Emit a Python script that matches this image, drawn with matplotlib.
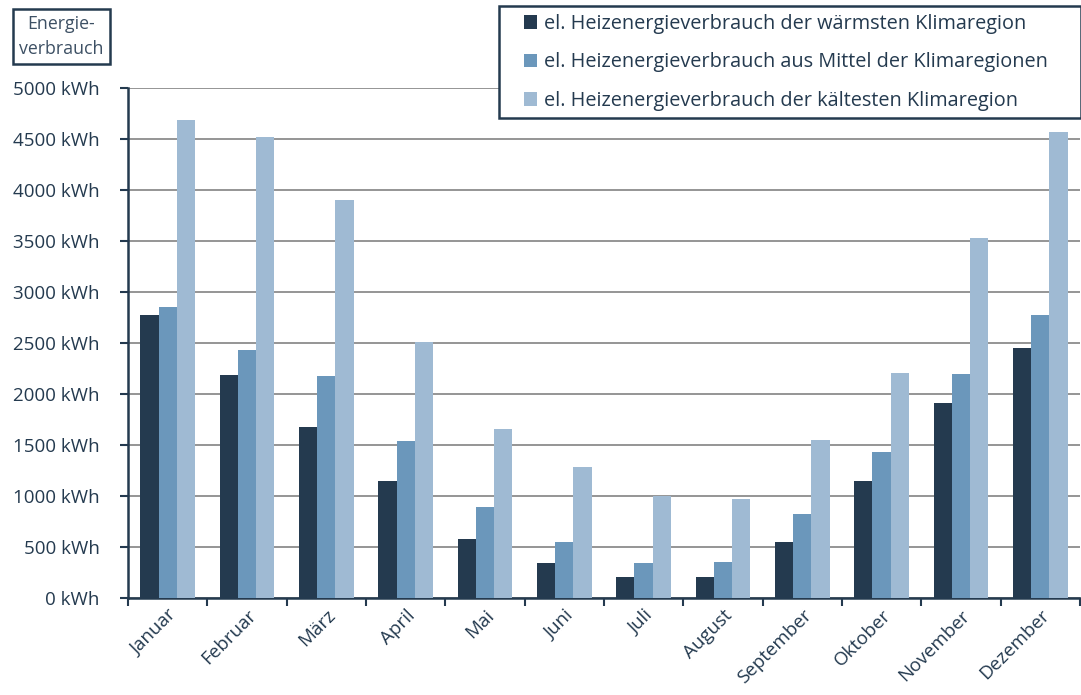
import numpy as np
import matplotlib.pyplot as plt
from matplotlib.patches import Rectangle

plt.rcParams['font.family'] = ['Open Sans', 'DejaVu Sans']

# Monatsnamen und Verbrauchswerte (kWh)
months = ["Januar", "Februar", "März", "April", "Mai", "Juni", "Juli",
          "August", "September", "Oktober", "November", "Dezember"]
waermste = [2770, 2190, 1680, 1150, 580, 340, 205, 205, 545, 1150, 1910, 2455]
mittel = [2850, 2430, 2180, 1535, 895, 548, 340, 353, 820, 1435, 2195, 2770]
kaelteste = [4690, 4520, 3900, 2510, 1660, 1285, 1000, 967, 1548, 2205, 3525, 4565]

series_labels = ["el. Heizenergieverbrauch der wärmsten Klimaregion",
                 "el. Heizenergieverbrauch aus Mittel der Klimaregionen",
                 "el. Heizenergieverbrauch der kältesten Klimaregion"]
colors = ["#243a4f", "#6b97bb", "#9fbad3"]
text_color = "#243a4f"

fig = plt.figure(figsize=(10.81, 6.95), dpi=100)
ax = fig.add_axes([0.1184, 0.1396, 0.8806, 0.7338])

x = np.arange(len(months))
w = 0.23
for i, (vals, lab, col) in enumerate(zip([waermste, mittel, kaelteste], series_labels, colors)):
    ax.bar(x + (i - 1) * w, vals, width=w, color=col, label=lab, zorder=3)

ax.set_xlim(-0.5, len(months) - 0.5)
ax.set_ylim(0, 5000)
yt = np.arange(0, 5001, 500)
ax.set_yticks(yt)
ax.set_yticklabels([f"{v} kWh" for v in yt], fontsize=13.5, color=text_color)
ax.yaxis.grid(True, color="#8c8c8c", linewidth=1.3, zorder=0)

# Ticks zwischen den Kategorien, Beschriftung in der Mitte
ax.set_xticks(np.arange(-0.5, len(months) + 0.5, 1))
ax.set_xticklabels([])
ax.set_xticks(x, minor=True)
ax.set_xticklabels(months, minor=True, rotation=45, ha="right", rotation_mode="anchor",
                   fontsize=13.5, color=text_color)
ax.tick_params(axis="x", which="minor", length=0, pad=6)
ax.tick_params(axis="x", which="major", length=6, width=1.5, color=text_color)
ax.tick_params(axis="y", length=6, width=1.5, color=text_color, pad=14.5)

for s in ["top", "right"]:
    ax.spines[s].set_visible(False)
for s in ["left", "bottom"]:
    ax.spines[s].set_color(text_color)
    ax.spines[s].set_linewidth(1.8)

# Legendenrahmen separat, damit links mehr Platz bleibt
fig.patches.append(Rectangle((499 / 1081, 1 - 118 / 695), 582 / 1081, 112 / 695,
                             transform=fig.transFigure, facecolor="white",
                             edgecolor=text_color, linewidth=1.8, zorder=5))
leg = fig.legend(loc="upper left", bbox_to_anchor=(524 / 1081, 1 - 14 / 695), fontsize=14.3,
                 frameon=False, handlelength=0.65, handleheight=0.65,
                 handletextpad=0.35, labelspacing=0.93, borderpad=0, borderaxespad=0)
leg.set_zorder(6)
for t in leg.get_texts():
    t.set_color(text_color)

fig.text(0.0569, 0.9475, "Energie-\nverbrauch", ha="center", va="center", fontsize=12.8,
         color="#3d5064", linespacing=1.5,
         bbox=dict(boxstyle="square,pad=0.33", facecolor="white", edgecolor=text_color, linewidth=1.8))

fig.savefig("out.png", dpi=100)
